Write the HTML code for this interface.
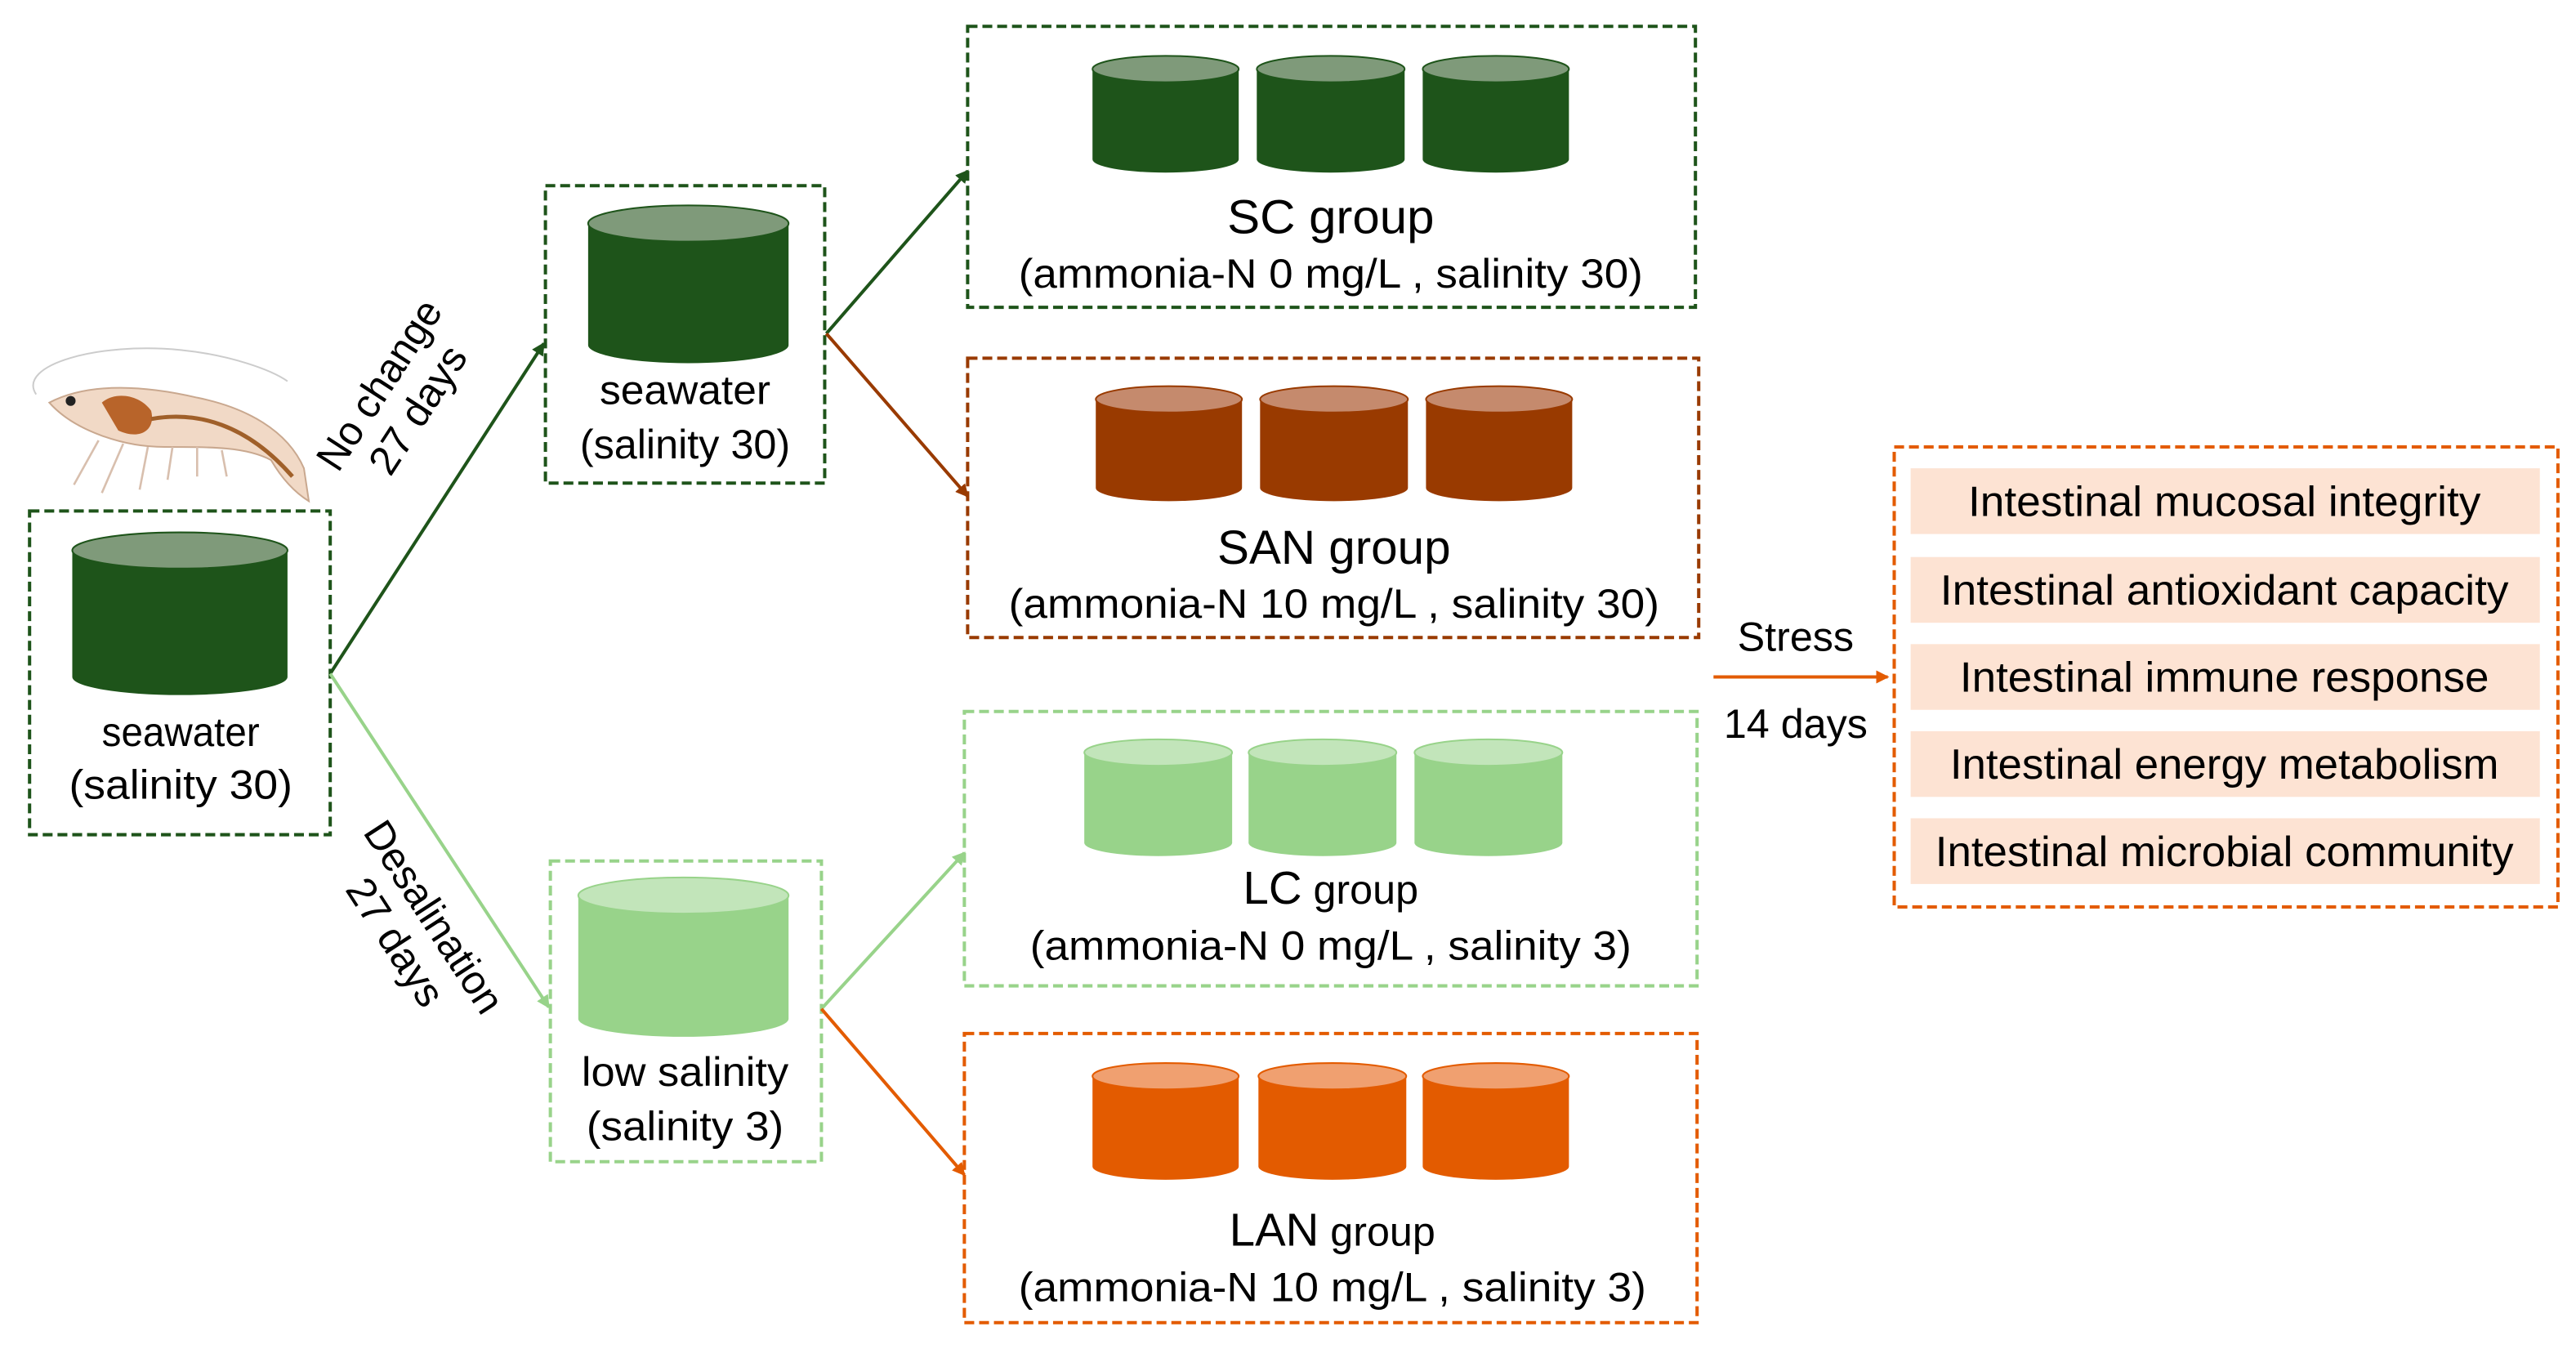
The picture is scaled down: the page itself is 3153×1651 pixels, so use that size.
<!DOCTYPE html>
<html><head><meta charset="utf-8"><style>html,body{margin:0;padding:0;background:#fff}svg{display:block}</style></head>
<body>
<svg width="3153" height="1651" viewBox="0 0 1568 821" xmlns="http://www.w3.org/2000/svg" font-family="Liberation Sans, sans-serif">
<defs>
<marker id="ag" markerWidth="8" markerHeight="8" refX="7" refY="4" orient="auto" markerUnits="userSpaceOnUse"><path d="M0,0 L8,4 L0,8 z" fill="#1e541a"/></marker>
<marker id="al" markerWidth="8" markerHeight="8" refX="7" refY="4" orient="auto" markerUnits="userSpaceOnUse"><path d="M0,0 L8,4 L0,8 z" fill="#98d38a"/></marker>
<marker id="ab" markerWidth="8" markerHeight="8" refX="7" refY="4" orient="auto" markerUnits="userSpaceOnUse"><path d="M0,0 L8,4 L0,8 z" fill="#993a00"/></marker>
<marker id="ao" markerWidth="8" markerHeight="8" refX="7" refY="4" orient="auto" markerUnits="userSpaceOnUse"><path d="M0,0 L8,4 L0,8 z" fill="#e35b00"/></marker>
</defs>
<g fill="none" stroke-width="2" stroke-dasharray="6,3">
<rect x="18" y="311" width="183" height="197" stroke="#1e541a"/>
<rect x="332" y="113" width="170" height="181" stroke="#1e541a"/>
<rect x="335" y="524" width="165" height="183" stroke="#98d38a"/>
<rect x="589" y="16" width="443" height="171" stroke="#1e541a"/>
<rect x="589" y="218" width="445" height="170" stroke="#993a00"/>
<rect x="587" y="433" width="446" height="167" stroke="#98d38a"/>
<rect x="587" y="629" width="446" height="176" stroke="#e35b00"/>
<rect x="1153" y="272" width="404" height="280" stroke="#e35b00"/>
</g>
<g>
<path d="M44,335 V412 A65.5,11 0 0 0 175,412 V335 Z" fill="#1e541a"/><ellipse cx="109.5" cy="335" rx="65.5" ry="11" fill="#7f9a7a" stroke="#1e541a"/>
<path d="M358,136 V210 A61,11 0 0 0 480,210 V136 Z" fill="#1e541a"/><ellipse cx="419" cy="136" rx="61" ry="11" fill="#7f9a7a" stroke="#1e541a"/>
<path d="M352,545 V620 A64,11 0 0 0 480,620 V545 Z" fill="#98d38a"/><ellipse cx="416" cy="545" rx="64" ry="11" fill="#c2e5ba" stroke="#98d38a"/>
<g fill="#1e541a"><path d="M665,42 V97 A44.5,8 0 0 0 754,97 V42 Z"/><path d="M765,42 V97 A45,8 0 0 0 855,97 V42 Z"/><path d="M866,42 V97 A44.5,8 0 0 0 955,97 V42 Z"/></g>
<g fill="#7f9a7a" stroke="#1e541a"><ellipse cx="709.5" cy="42" rx="44.5" ry="8"/><ellipse cx="810" cy="42" rx="45" ry="8"/><ellipse cx="910.5" cy="42" rx="44.5" ry="8"/></g>
<g fill="#993a00"><path d="M667,243 V297 A44.5,8 0 0 0 756,297 V243 Z"/><path d="M767,243 V297 A45,8 0 0 0 857,297 V243 Z"/><path d="M868,243 V297 A44.5,8 0 0 0 957,297 V243 Z"/></g>
<g fill="#c58a6d" stroke="#993a00"><ellipse cx="711.5" cy="243" rx="44.5" ry="8"/><ellipse cx="812" cy="243" rx="45" ry="8"/><ellipse cx="912.5" cy="243" rx="44.5" ry="8"/></g>
<g fill="#98d38a"><path d="M660,458 V513 A45,8 0 0 0 750,513 V458 Z"/><path d="M760,458 V513 A45,8 0 0 0 850,513 V458 Z"/><path d="M861,458 V513 A45,8 0 0 0 951,513 V458 Z"/></g>
<g fill="#c2e5ba" stroke="#98d38a"><ellipse cx="705" cy="458" rx="45" ry="8"/><ellipse cx="805" cy="458" rx="45" ry="8"/><ellipse cx="906" cy="458" rx="45" ry="8"/></g>
<g fill="#e35b00"><path d="M665,655 V710 A44.5,8 0 0 0 754,710 V655 Z"/><path d="M766,655 V710 A45,8 0 0 0 856,710 V655 Z"/><path d="M866,655 V710 A44.5,8 0 0 0 955,710 V655 Z"/></g>
<g fill="#f0a070" stroke="#e35b00"><ellipse cx="709.5" cy="655" rx="44.5" ry="8"/><ellipse cx="811" cy="655" rx="45" ry="8"/><ellipse cx="910.5" cy="655" rx="44.5" ry="8"/></g>
</g>
<g stroke-width="2" fill="none">
<line x1="201" y1="410" x2="331" y2="209" stroke="#1e541a" marker-end="url(#ag)"/>
<line x1="201" y1="410" x2="334" y2="613" stroke="#98d38a" marker-end="url(#al)"/>
<line x1="503" y1="203" x2="589" y2="104" stroke="#1e541a" marker-end="url(#ag)"/>
<line x1="503" y1="203" x2="589" y2="302" stroke="#993a00" marker-end="url(#ab)"/>
<line x1="500" y1="614" x2="587" y2="519" stroke="#98d38a" marker-end="url(#al)"/>
<line x1="500" y1="614" x2="587" y2="715" stroke="#e35b00" marker-end="url(#ao)"/>
<line x1="1043" y1="412" x2="1149" y2="412" stroke="#e35b00" marker-end="url(#ao)"/>
</g>
<g>
<path d="M22,240 C10,222 60,208 110,213 C140,216 165,225 175,232" fill="none" stroke="#ccc" stroke-width="1"/>
<path d="M30,245 C55,232 90,235 120,242 C150,248 175,262 185,285 L188,305 C180,300 172,292 165,280 C150,272 130,272 100,272 C75,272 45,262 30,245 Z" fill="#f1d9c6" stroke="#c9a88f" stroke-width="1"/>
<path d="M62,245 C70,238 85,240 92,250 C95,262 85,268 72,262 Z" fill="#b8642a"/>
<path d="M92,255 C120,250 150,258 178,290" fill="none" stroke="#a0602a" stroke-width="2.5"/>
<circle cx="43" cy="244" r="3" fill="#222"/>
<g stroke="#d8bfae" stroke-width="1.3"><line x1="60" y1="268" x2="45" y2="295"/><line x1="75" y1="270" x2="62" y2="300"/><line x1="90" y1="272" x2="85" y2="298"/><line x1="105" y1="272" x2="102" y2="292"/><line x1="120" y1="272" x2="120" y2="290"/><line x1="135" y1="274" x2="138" y2="290"/></g>
</g>
<g font-size="25" text-anchor="middle" fill="#000" lengthAdjust="spacingAndGlyphs">
<text x="110" y="454" textLength="96" lengthAdjust="spacingAndGlyphs">seawater</text><text x="110" y="486" textLength="136" lengthAdjust="spacingAndGlyphs">(salinity 30)</text>
<text x="417" y="246" textLength="104" lengthAdjust="spacingAndGlyphs">seawater</text><text x="417" y="279" textLength="128" lengthAdjust="spacingAndGlyphs">(salinity 30)</text>
<text x="417" y="661" textLength="126" lengthAdjust="spacingAndGlyphs">low salinity</text><text x="417" y="694" textLength="120" lengthAdjust="spacingAndGlyphs">(salinity 3)</text>
<text x="810" y="142" font-size="29" textLength="126" lengthAdjust="spacingAndGlyphs">SC group</text>
<text x="810" y="175" textLength="380" lengthAdjust="spacingAndGlyphs">(ammonia-N 0 mg/L , salinity 30)</text>
<text x="812" y="343" font-size="29" textLength="142" lengthAdjust="spacingAndGlyphs">SAN group</text>
<text x="812" y="376" textLength="396" lengthAdjust="spacingAndGlyphs">(ammonia-N 10 mg/L , salinity 30)</text>
<text x="810" y="550"><tspan font-size="28">LC</tspan> group</text>
<text x="810" y="584" textLength="366" lengthAdjust="spacingAndGlyphs">(ammonia-N 0 mg/L , salinity 3)</text>
<text x="811" y="758"><tspan font-size="28">LAN</tspan> group</text>
<text x="811" y="792" textLength="382" lengthAdjust="spacingAndGlyphs">(ammonia-N 10 mg/L , salinity 3)</text>
<text x="1093" y="396">Stress</text><text x="1093" y="449">14 days</text>
<g transform="translate(243,242) rotate(-57)"><text x="0" y="-6" textLength="118" lengthAdjust="spacingAndGlyphs">No change</text><text x="0" y="22">27 days</text></g>
<g transform="translate(252,566) rotate(57)"><text x="0" y="-6" textLength="134" lengthAdjust="spacingAndGlyphs">Desalination</text><text x="0" y="22">27 days</text></g>
</g>
<g fill="#fde3d3"><rect x="1163" y="285" width="383" height="40"/><rect x="1163" y="339" width="383" height="40"/><rect x="1163" y="392" width="383" height="40"/><rect x="1163" y="445" width="383" height="40"/><rect x="1163" y="498" width="383" height="40"/></g>
<g font-size="26" text-anchor="middle" fill="#000">
<text x="1354" y="314" textLength="312" lengthAdjust="spacingAndGlyphs">Intestinal mucosal integrity</text>
<text x="1354" y="368" textLength="346" lengthAdjust="spacingAndGlyphs">Intestinal antioxidant capacity</text>
<text x="1354" y="421" textLength="322" lengthAdjust="spacingAndGlyphs">Intestinal immune response</text>
<text x="1354" y="474" textLength="334" lengthAdjust="spacingAndGlyphs">Intestinal energy metabolism</text>
<text x="1354" y="527" textLength="352" lengthAdjust="spacingAndGlyphs">Intestinal microbial community</text>
</g>
</svg>
</body></html>
